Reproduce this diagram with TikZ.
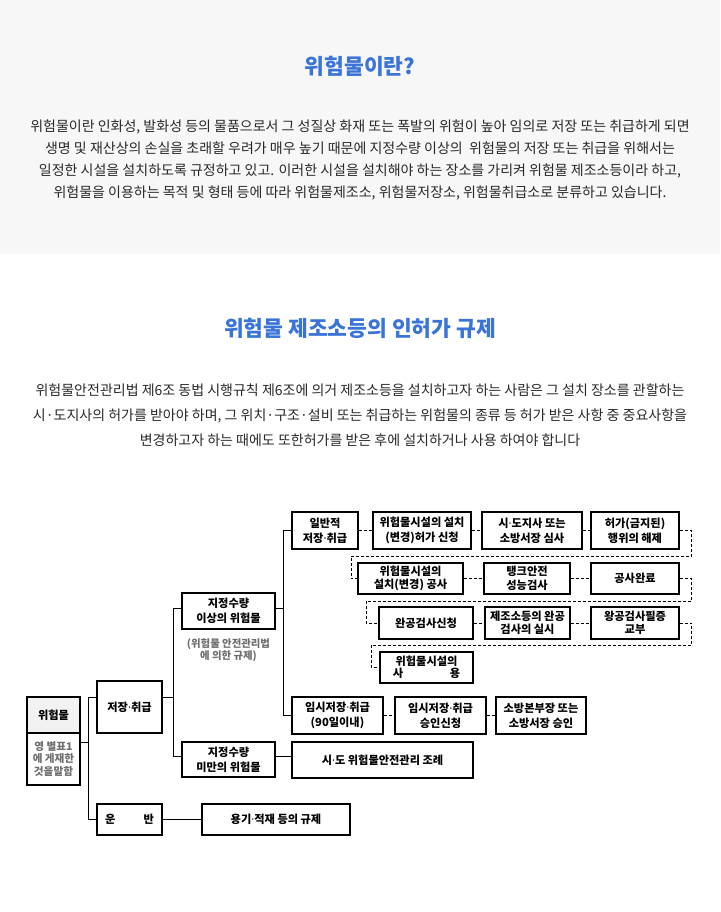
\documentclass[tikz,border=0pt]{standalone}
\usepackage{fontspec}
\setmainfont{Noto Sans CJK KR}
\newfontfamily\latinfont{Noto Sans}
\usepackage{tikz}
\definecolor{titleblue}{RGB}{58,116,216}
\definecolor{bandgray}{RGB}{247,247,248}
\definecolor{bodytext}{RGB}{40,40,40}
\definecolor{notegray}{RGB}{110,110,110}
\definecolor{cellgray}{RGB}{242,242,242}
\newcommand{\md}{{\latinfont\bfseries ·}}

\begin{document}
\begin{tikzpicture}[x=1pt, y=-1pt,
  box/.style={draw, line width=1.2pt, fill=white, inner sep=0pt, align=center, font=\bfseries\fontsize{11.2}{15}\selectfont},
  tag/.style={align=center, text=notegray, font=\bfseries\fontsize{10.4}{12.5}\selectfont},
  title/.style={text=titleblue, font=\bfseries\fontsize{21.5}{24}\selectfont},
  body/.style={align=center, text=bodytext, font=\fontsize{14}{22}\selectfont},
  bodywide/.style={align=center, text=bodytext, font=\fontsize{14}{25}\selectfont},
  link/.style={line width=0.9pt},
  flow/.style={line width=0.9pt, dash pattern=on 3pt off 2pt}]
  \useasboundingbox (0,0) rectangle (720,912);
  \fill[bandgray] (0,0) rectangle (720,254);

  % intro
  \node[title] (t1) at (360,66) {위험물이란?};
  \node[body] (p1) at (360,160) {위험물이란 인화성, 발화성 등의 물품으로서 그 성질상 화재 또는 폭발의 위험이 높아 임의로 저장 또는 취급하게 되면\\
    생명 및 재산상의 손실을 초래할 우려가 매우 높기 때문에 지정수량 이상의\ \ 위험물의 저장 또는 취급을 위해서는\\
    일정한 시설을 설치하도록 규정하고 있고. 이러한 시설을 설치해야 하는 장소를 가리켜 위험물 제조소등이라 하고,\\
    위험물을 이용하는 목적 및 형태 등에 따라 위험물제조소, 위험물저장소, 위험물취급소로 분류하고 있습니다.};

  \node[title] (t2) at (360,328) {위험물 제조소등의 인허가 규제};
  \node[bodywide] (p2) at (360,415) {위험물안전관리법 제6조 동법 시행규칙 제6조에 의거 제조소등을 설치하고자 하는 사람은 그 설치 장소를 관할하는\\
    시·도지사의 허가를 받아야 하며, 그 위치·구조·설비 또는 취급하는 위험물의 종류 등 허가 받은 사항 중 중요사항을\\
    변경하고자 하는 때에도 또한허가를 받은 후에 설치하거나 사용 하여야 합니다};

  % left tree
  \node[box, fill=cellgray, minimum width=53pt, minimum height=36pt] (wh) at (53.5,715) {위험물};
  \node[box, minimum width=53pt, minimum height=52pt, text=notegray, font=\bfseries\fontsize{10.6}{12.5}\selectfont] (whs) at (53.5,759) {영 별표1\\에 게재한\\것을말함};
  \node[box, minimum width=65pt, minimum height=52pt] (st) at (129.5,707) {저장\md 취급};
  \node[box, minimum width=65pt, minimum height=31pt] (tr) at (129.5,819.5) {운\hspace{2.5em}반};
  \node[box, minimum width=93pt, minimum height=36pt] (ab) at (228.5,611) {지정수량\\이상의 위험물};
  \node[tag] (note) at (228.5,650) {(위험물 안전관리법\\에 의한 규제)};
  \node[box, minimum width=93pt, minimum height=35pt] (bl) at (228.5,759.5) {지정수량\\미만의 위험물};
  \node[box, minimum width=148pt, minimum height=31pt] (pk) at (276,819.5) {용기\md 적재 등의 규제};

  % permit rows
  \node[box, minimum width=66pt, minimum height=37pt] (ge) at (325,530.5) {일반적\\저장\md 취급};
  \node[box, minimum width=98pt, minimum height=37pt] (r1a) at (422,530.5) {위험물시설의 설치\\(변경)허가 신청};
  \node[box, minimum width=100pt, minimum height=37pt] (r1b) at (532,530.5) {시\md 도지사 또는\\소방서장 심사};
  \node[box, minimum width=88pt, minimum height=37pt] (r1c) at (635,530.5) {허가(금지된)\\행위의 해제};

  \node[box, minimum width=105pt, minimum height=31pt] (r2a) at (410.5,578.5) {위험물시설의\\[-1.5pt]설치(변경) 공사};
  \node[box, minimum width=86pt, minimum height=31pt] (r2b) at (527,578.5) {탱크안전\\[-1.5pt]성능검사};
  \node[box, minimum width=88pt, minimum height=31pt] (r2c) at (635,578.5) {공사완료};

  \node[box, minimum width=94pt, minimum height=32pt] (r3a) at (426,623) {완공검사신청};
  \node[box, minimum width=85pt, minimum height=32pt] (r3b) at (527.5,623) {제조소등의 완공\\[-1.5pt]검사의 실시};
  \node[box, minimum width=88pt, minimum height=32pt] (r3c) at (635,623) {왕공검사필증\\[-1.5pt]교부};

  \node[box, minimum width=93pt, minimum height=31pt] (r4a) at (426.5,667.5) {위험물시설의\\[-3.5pt]\makebox[6em]{사\hfill 용}};

  \node[box, minimum width=91pt, minimum height=37pt] (tm) at (337.5,715.5) {임시저장\md 취급\\(90일이내)};
  \node[box, minimum width=91pt, minimum height=37pt] (tm2) at (440.5,715.5) {임시저장\md 취급\\승인신청};
  \node[box, minimum width=90pt, minimum height=37pt] (tm3) at (541,715.5) {소방본부장 또는\\소방서장 승인};
  \node[box, minimum width=181pt, minimum height=36pt] (ord) at (382.5,760) {시\md 도 위험물안전관리 조례};

  % tree links
  \coordinate (k0) at (88,742);
  \coordinate (k1) at (88,697);
  \coordinate (k2) at (88,819.5);
  \coordinate (m1) at (173,608);
  \coordinate (m2) at (173,756);
  \coordinate (n1) at (283,530.5);
  \coordinate (n2) at (283,715.5);
  \draw[link] (k0 -| whs.east) -- (k0);
  \draw[link] (k1 -| st.west) -- (k1) -- (k2) -- (tr.west);
  \draw[link] (st.east |- k1) -- (k1 -| m1);
  \draw[link] (m1 -| ab.west) -- (m1) -- (m2) -- (m2 -| bl.west);
  \draw[link] (ab.east |- m1) -- (m1 -| n1);
  \draw[link] (ge.west) -- (n1) -- (n2) -- (tm.west);
  \draw[link] (bl.east |- m2) -- (m2 -| ord.west);
  \draw[link] (tr) -- (pk);

  % permit flow
  \coordinate (w1) at (351,556);
  \coordinate (w2) at (366,601);
  \coordinate (w3) at (371,645);
  \draw[flow] (ge) -- (r1a); \draw[flow] (r1a) -- (r1b); \draw[flow] (r1b) -- (r1c);
  \draw[flow] (r1c.east) -- ++(12,0) |- (w1) |- (r2a.west);
  \draw[flow] (r2a) -- (r2b); \draw[flow] (r2b) -- (r2c);
  \draw[flow] (r2c.east) -- ++(12,0) |- (w2) |- (r3a.west);
  \draw[flow] (r3a) -- (r3b); \draw[flow] (r3b) -- (r3c);
  \draw[flow] (r3c.east) -- ++(12,0) |- (w3) |- (r4a.west);
  \draw[flow] (tm) -- (tm2); \draw[flow] (tm2) -- (tm3);
\end{tikzpicture}
\end{document}
